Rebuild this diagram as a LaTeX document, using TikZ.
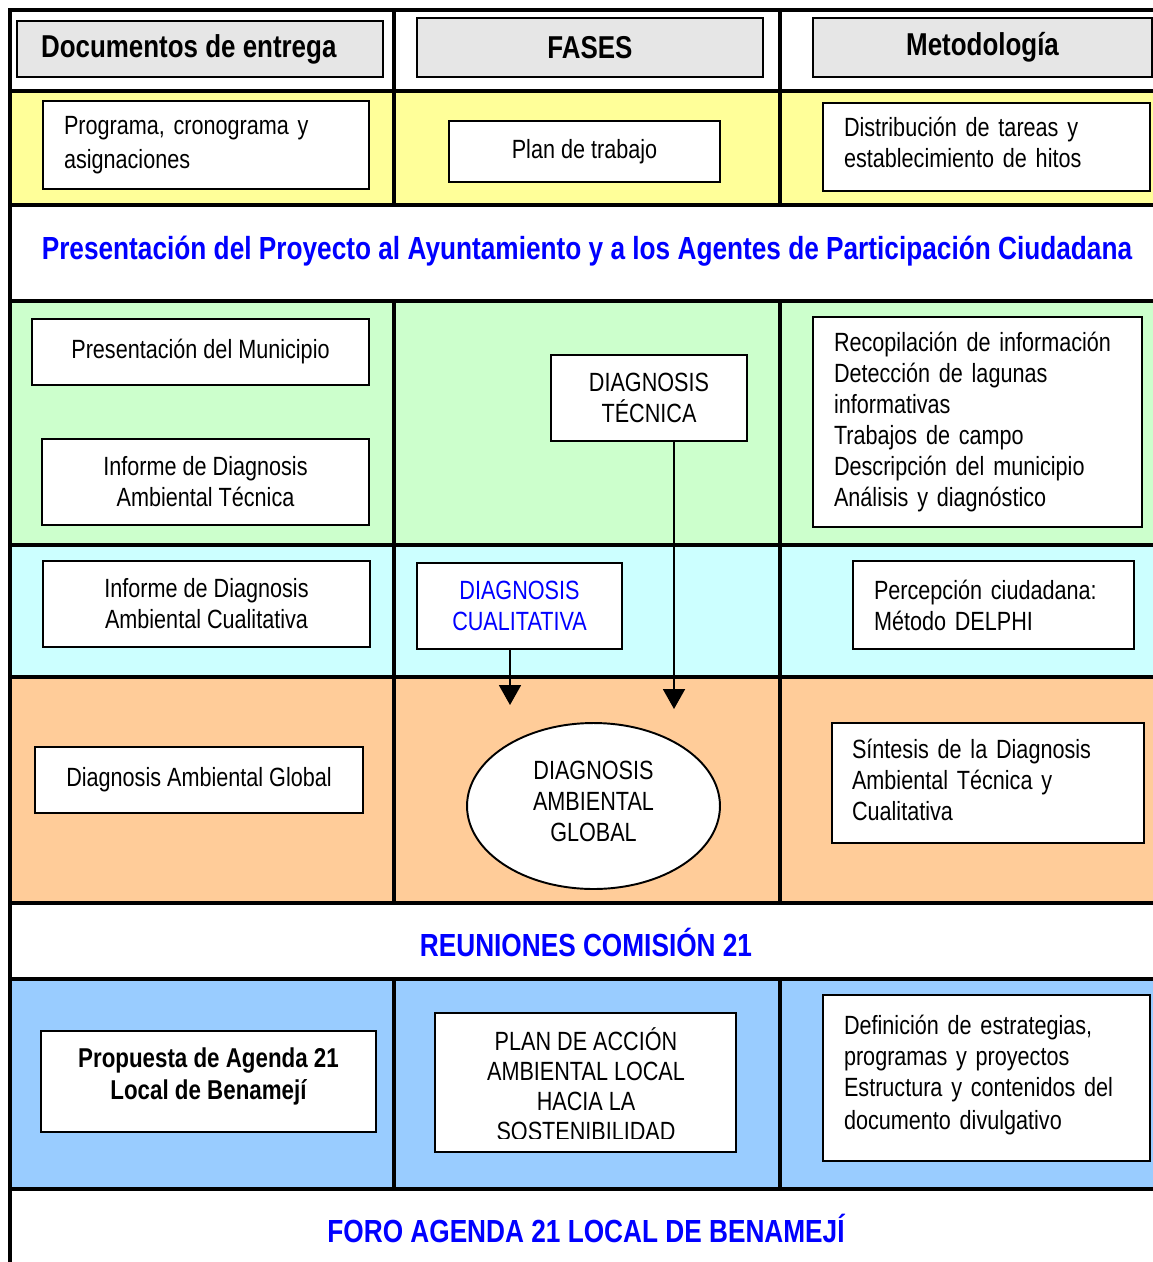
\documentclass[tikz,border=0pt]{standalone}
\usepackage{fontspec}
\setmainfont{Liberation Sans}[FakeStretch=0.82]
\usetikzlibrary{arrows.meta,shapes.geometric}

\definecolor{hdrgray}{RGB}{230,230,230}
\definecolor{rowyellow}{RGB}{255,255,153}
\definecolor{rowgreen}{RGB}{204,255,204}
\definecolor{rowcyan}{RGB}{204,255,255}
\definecolor{rowpeach}{RGB}{255,204,153}
\definecolor{rowblue}{RGB}{153,204,255}
\definecolor{titleblue}{RGB}{0,0,255}

\begin{document}
\begin{tikzpicture}[x=0.02cm, y=-0.02cm,
    grid/.style={line width=2pt, line cap=rect},
    box/.style={draw, fill=white, line width=1.1pt, inner sep=0pt, align=center,
      font=\fontsize{15}{17.6}\selectfont},
    lbox/.style={box, align=left, inner xsep=0.42cm},
    big/.style={font=\fontsize{15}{19}\selectfont},
    hbox/.style={box, fill=hdrgray, font=\fontsize{18}{20}\selectfont\bfseries},
    title/.style={text=titleblue, font=\fontsize{18.2}{20}\selectfont\bfseries},
    arr/.style={-{Triangle[length=0.4cm,width=0.44cm]}, line width=1.1pt}]

    \useasboundingbox (0,0) rectangle (1153,1262);

    % coloured rows of the table
    \foreach \ya/\yb/\col in {91/205/rowyellow, 301/545/rowgreen, 545/677/rowcyan,
                              677/903/rowpeach, 979/1189/rowblue}
    {
        \fill[\col] (10,\ya) rectangle (1153,\yb);
    }

    % table lines
    \foreach \y in {10,91,205,301,545,677,903,979,1189}
    {
        \draw[grid] (10,\y) -- (1153,\y);
    }
    \draw[grid] (10,10) -- (10,1262);
    \foreach \x in {394,780}
    {
        \draw[grid] (\x,10) -- (\x,205);
        \draw[grid] (\x,301) -- (\x,903);
        \draw[grid] (\x,979) -- (\x,1189);
    }

    % headers
    \node[hbox, minimum width=7.32cm, minimum height=1.12cm] (hdoc) at (200,49)
        {\hspace*{-0.45cm}Documentos de entrega};
    \node[hbox, minimum width=6.92cm, minimum height=1.18cm] (hfases) at (590,47.5) {FASES};
    \node[hbox, minimum width=6.78cm, minimum height=1.18cm] (hmet) at (982.5,47.5) {Metodología};

    % planning row
    \node[lbox, big, text width=5.68cm, minimum height=1.76cm] (prog) at (206,145)
        {Programa, cronograma y\\asignaciones};
    \node[box, big, minimum width=5.42cm, minimum height=1.22cm] (plan) at (584.5,151.5) {Plan de trabajo};
    \node[lbox, font=\fontsize{15}{18}\selectfont, text width=5.7cm, minimum height=1.76cm] (distrib) at (986.5,147)
        {Distribución de tareas y\\establecimiento de hitos\\[-0.45cm]\mbox{}};

    \node[title] (tproy) at (587,251)
        {Presentación del Proyecto al Ayuntamiento y a los Agentes de Participación Ciudadana};

    % technical diagnosis
    \node[box, minimum width=6.74cm, minimum height=1.32cm] (pmun) at (200.5,352) {Presentación del Municipio};
    \node[box, minimum width=6.54cm, minimum height=1.72cm] (inftec) at (205.5,482)
        {Informe de Diagnosis\\Ambiental Técnica};
    \node[box, minimum width=3.92cm, minimum height=1.72cm] (dtec) at (649,398) {DIAGNOSIS\\TÉCNICA};
    \node[lbox, text width=5.74cm, minimum height=4.2cm] (recop) at (977.5,422)
        {Recopilación de información\\Detección de lagunas\\informativas\\Trabajos de campo\\
         Descripción del municipio\\Análisis y diagnóstico};

    % qualitative diagnosis
    \node[box, minimum width=6.54cm, minimum height=1.72cm] (infcual) at (206.5,604)
        {Informe de Diagnosis\\Ambiental Cualitativa};
    \node[box, text=titleblue, minimum width=4.1cm, minimum height=1.72cm] (dcual) at (519.5,606)
        {DIAGNOSIS\\CUALITATIVA};
    \node[lbox, text width=4.78cm, minimum height=1.76cm] (percep) at (993.5,605)
        {Percepción ciudadana:\\Método DELPHI};

    % global diagnosis
    \node[box, minimum width=6.56cm, minimum height=1.32cm] (dag) at (199,780) {Diagnosis Ambiental Global\\[-0.5cm]};
    \node[box, ellipse, minimum width=5.06cm, minimum height=3.32cm] (dglob) at (593.5,806)
        {DIAGNOSIS\\AMBIENTAL\\GLOBAL\\[-0.42cm]};
    \node[lbox, inner xsep=0.4cm, text width=5.44cm, minimum height=2.4cm] (sintesis) at (988,783)
        {Síntesis de la Diagnosis\\Ambiental Técnica y\\Cualitativa\\[-0.5cm]\mbox{}};

    \coordinate (tipC) at (510,705);
    \coordinate (tipT) at (674,709);
    \draw[arr] (dcual.south -| tipC) -- (tipC);
    \draw[arr] (dtec.south -| tipT) -- (tipT);

    \node[title] (treun) at (586,942) {REUNIONES COMISIÓN 21};

    % action plan
    \node[box, font=\fontsize{15.5}{18.5}\selectfont\bfseries, minimum width=6.7cm, minimum height=2.02cm]
        (propuesta) at (208.5,1081.5) {Propuesta de Agenda 21\\Local de Benamejí\\[-0.33cm]};
    \node[box, minimum width=6.02cm, minimum height=2.78cm] (plan21) at (585.5,1082.5) {};
    \begin{scope}
        \clip (437,1015) rectangle (734,1138);
        \node[align=center, inner sep=0pt, font=\fontsize{15}{17}\selectfont] (plan21txt) at (586,1084)
            {PLAN DE ACCIÓN\\AMBIENTAL LOCAL\\HACIA LA\\SOSTENIBILIDAD};
    \end{scope}
    \node[lbox, text width=5.7cm, minimum height=3.32cm] (defin) at (986.5,1078)
        {Definición de estrategias,\\programas y proyectos\\Estructura y contenidos del\\[0.05cm]
         documento divulgativo\\[-0.4cm]\mbox{}};

    \node[title] (tforo) at (586,1228) {FORO AGENDA 21 LOCAL DE BENAMEJÍ};

\end{tikzpicture}
\end{document}
